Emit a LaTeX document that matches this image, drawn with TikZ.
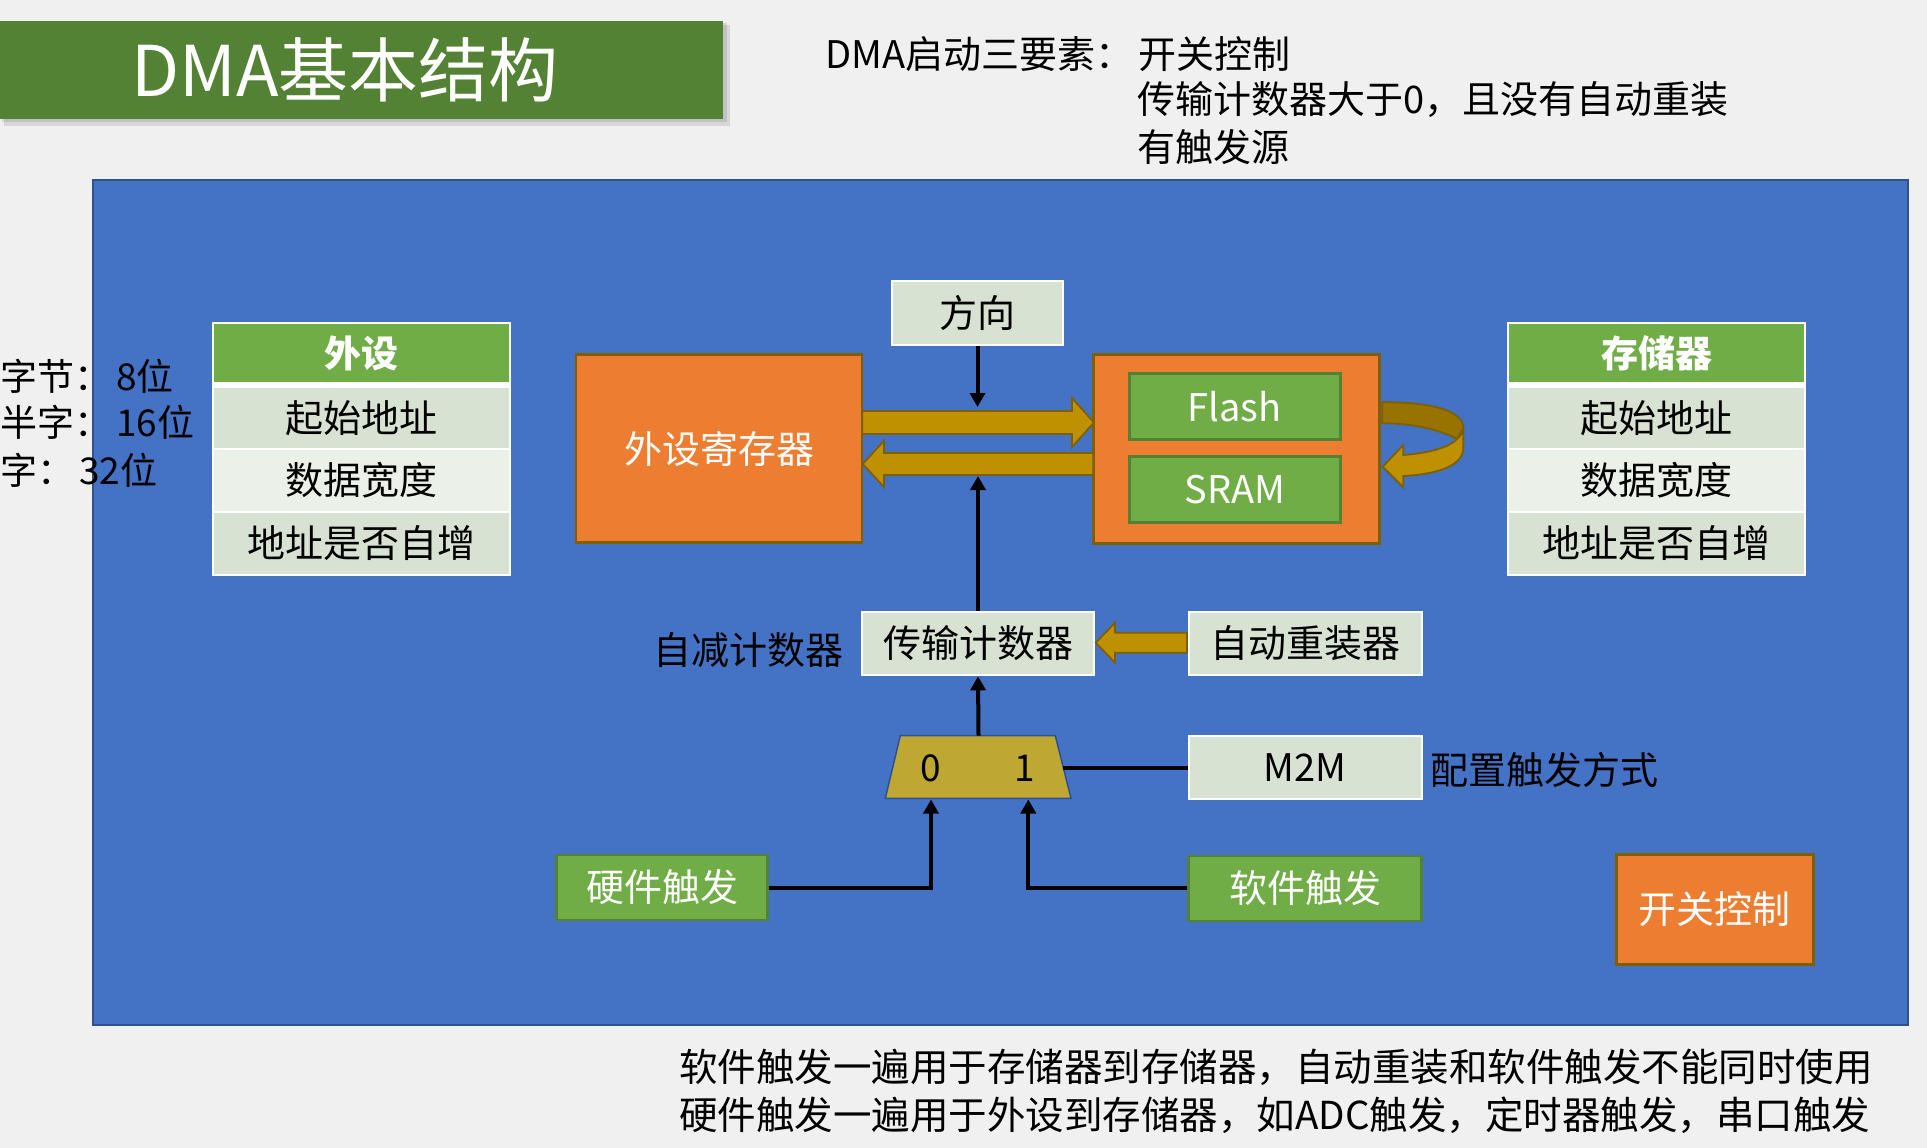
\documentclass[tikz,border=0pt]{standalone}
\usepackage{fontspec}
\setmainfont{Noto Sans CJK SC}
\usetikzlibrary{arrows.meta}
\definecolor{bg}{HTML}{F0F0F0}
\definecolor{panel}{HTML}{4472C4}
\definecolor{panelb}{HTML}{2F528F}
\definecolor{title}{HTML}{548235}
\definecolor{hdr}{HTML}{70AD47}
\definecolor{rowa}{HTML}{D8E2D2}
\definecolor{rowb}{HTML}{EBF0E8}
\definecolor{orng}{HTML}{ED7D31}
\definecolor{orngb}{HTML}{7F6000}
\definecolor{gold}{HTML}{BF9000}
\definecolor{golddk}{HTML}{997300}
\definecolor{goldb}{HTML}{7F6000}
\definecolor{mux}{HTML}{BFA733}
\definecolor{grn}{HTML}{70AD47}
\definecolor{grnb}{HTML}{548235}
\tikzset{
  tx/.style={font=\fontsize{38}{46}\selectfont, inner sep=0pt},
  sz/.style n args={2}{minimum width=#1pt, minimum height=#2pt},
  lgbox/.style={tx, fill=rowa, draw=white, line width=2pt},
  orbox/.style={tx, fill=orng, draw=orngb, line width=2.5pt, text=white},
  gnbox/.style={tx, fill=grn, draw=grnb, line width=2.5pt, text=white},
  hdrcell/.style={tx, fill=hdr, text=white, font=\fontsize{37}{44}\selectfont\bfseries},
  cella/.style={tx, fill=rowa},
  cellb/.style={tx, fill=rowb},
  conn/.style={line width=4pt, -{Triangle[width=15pt,length=14pt]}},
  wire/.style={line width=4pt},
  goldar/.style={fill=gold, draw=goldb, line width=1.8pt, line join=miter},
  sidetx/.style={font=\fontsize{37}{44}\selectfont, inner sep=0pt, anchor=west}
}
\begin{document}
\begin{tikzpicture}[x=1pt,y=-1pt]
\useasboundingbox (0,0) rectangle (1927,1148);
\fill[bg] (0,0) rectangle (1927,1148);

% title
\fill[black,opacity=0.10] (4,25) rectangle (730,126);
\fill[black,opacity=0.10] (2,23) rectangle (727,122);
\node[fill=title, sz={723}{98}, inner sep=0pt, anchor=north west] (titlebox) at (0,21) {};
\node[font=\fontsize{70}{80}\selectfont, text=white, inner sep=0pt] (titletx) at (345,70) {DMA基本结构};

% top notes
\node[tx, anchor=west] (req) at (825,54) {DMA启动三要素：};
\node[tx, anchor=west] (req1) at (1138,54) {开关控制};
\node[tx, anchor=west] (req2) at (1137,100) {传输计数器大于0，且没有自动重装};
\node[tx, anchor=west] (req3) at (1137,147) {有触发源};

% panel
\filldraw[fill=panel, draw=panelb, line width=2pt] (93,180) rectangle (1908,1025);

% left notes
\node[sidetx] (byte) at (0,376) {字节：\hspace{5pt}8位};
\node[sidetx] (half) at (0,422) {半字：\hspace{5pt}16位};
\node[sidetx] (word) at (0,470) {字：\hspace{5pt}32位};

% peripheral table
\fill[white] (212,322) rectangle (511,576);
\node[hdrcell, sz={295}{58}] (ph) at (361.5,353) {外设};
\node[cella, sz={295}{60}] (p1) at (361.5,418) {起始地址};
\node[cellb, sz={295}{61}] (p2) at (361.5,480.5) {数据宽度};
\node[cella, sz={295}{61}] (p3) at (361.5,543.5) {地址是否自增};

% memory table
\fill[white] (1507,322) rectangle (1806,576);
\node[hdrcell, sz={295}{58}] (mh) at (1656.5,353) {存储器};
\node[cella, sz={295}{60}] (m1) at (1656.5,418) {起始地址};
\node[cellb, sz={295}{61}] (m2) at (1656.5,480.5) {数据宽度};
\node[cella, sz={295}{61}] (m3) at (1656.5,543.5) {地址是否自增};

% main boxes
\node[orbox, sz={286}{188}] (per) at (719,448.5) {外设寄存器};
\node[orbox, sz={286}{189}] (mem) at (1236.3,448.8) {};
\node[gnbox, sz={211}{66}] (flash) at (1234.8,406.3) {Flash};
\node[gnbox, sz={211}{65.6}] (sram) at (1234.8,489.5) {SRAM};
\node[lgbox, sz={171}{64.3}] (dir) at (977.5,312.9) {方向};
\node[lgbox, sz={232.6}{63.6}] (cnt) at (978,643.5) {传输计数器};
\node[lgbox, sz={233}{63.6}] (rld) at (1305.2,643.5) {自动重装器};
\node[lgbox, sz={233}{63.6}] (m2m) at (1305.2,767.5) {M2M};
\node[gnbox, sz={233}{65.3}] (sw) at (1305.2,888.4) {软件触发};
\node[gnbox, sz={210.6}{65}] (hw) at (662,887.5) {硬件触发};
\node[orbox, sz={197}{110}] (en) at (1714.8,909.3) {开关控制};

% labels
\node[tx] (dec) at (748,650) {自减计数器};
\node[tx, anchor=west] (cfg) at (1430,770) {配置触发方式};

% gold block arrows (peripheral <-> memory)
\draw[goldar] (862.3,411) -- (1072,411) -- (1072,398) -- (1094,422.5) -- (1072,447) -- (1072,434) -- (862.3,434) -- cycle;
\draw[goldar] (1093.3,453) -- (884,453) -- (884,440.7) -- (862.7,464) -- (884,487) -- (884,475) -- (1093.3,475) -- cycle;
% reload arrow
\draw[goldar] (1187,632.7) -- (1115,632.7) -- (1115,622.7) -- (1095.7,642.7) -- (1115,662.7) -- (1115,652.7) -- (1187,652.7) -- cycle;

% curved self arrow (memory -> memory)
\filldraw[fill=golddk, draw=goldb, line width=1.8pt] (1382.3,402.3) .. controls (1430,402) and (1463,410) .. (1463.3,428) -- (1457,439) .. controls (1440,430) and (1415,423.3) .. (1382.3,423.3) -- cycle;
\filldraw[fill=gold, draw=goldb, line width=1.8pt] (1457,439) .. controls (1461,436) and (1463,432) .. (1463.3,428) -- (1463.3,448) .. controls (1463,465) and (1440,474) .. (1403.3,476) -- (1403.3,487.3) -- (1382.7,466.7) -- (1403.3,445) -- (1403.3,455) .. controls (1430,453) and (1450,447) .. (1457,439) -- cycle;

% mux
\filldraw[fill=mux, draw=panelb, line width=1.5pt] (900.3,735.7) -- (1055.3,735.7) -- (1071,798.3) -- (885.3,798.3) -- cycle;
\coordinate (muxN) at (978.5,735.7);
\coordinate (muxE) at (1063.3,767.5);
\coordinate (in0) at (931,799.5);
\coordinate (in1) at (1028.3,799.5);
\node[tx, font=\fontsize{37}{44}\selectfont] (zero) at (930.7,768) {0};
\node[tx, font=\fontsize{37}{44}\selectfont] (one) at (1025,768) {1};

% black connectors
\coordinate (dirEnd) at (977.5,407);
\coordinate (cntEnd) at (978,476);
\draw[conn] (dir.south) -- (dirEnd);
\draw[conn] (cnt.north) -- (cntEnd);
\draw[conn] (muxN) -- (cnt.south);
\draw[wire] (m2m.west) -- (muxE);
\draw[conn] (hw.east) -| (in0);
\draw[conn] (sw.west) -| (in1);

% bottom notes
\node[tx, anchor=west, font=\fontsize{38.5}{46}\selectfont] (note1) at (679,1067) {软件触发一遍用于存储器到存储器，自动重装和软件触发不能同时使用};
\node[tx, anchor=west, font=\fontsize{38.5}{46}\selectfont] (note2) at (679,1115) {硬件触发一遍用于外设到存储器，如ADC触发，定时器触发，串口触发};
\end{tikzpicture}
\end{document}
